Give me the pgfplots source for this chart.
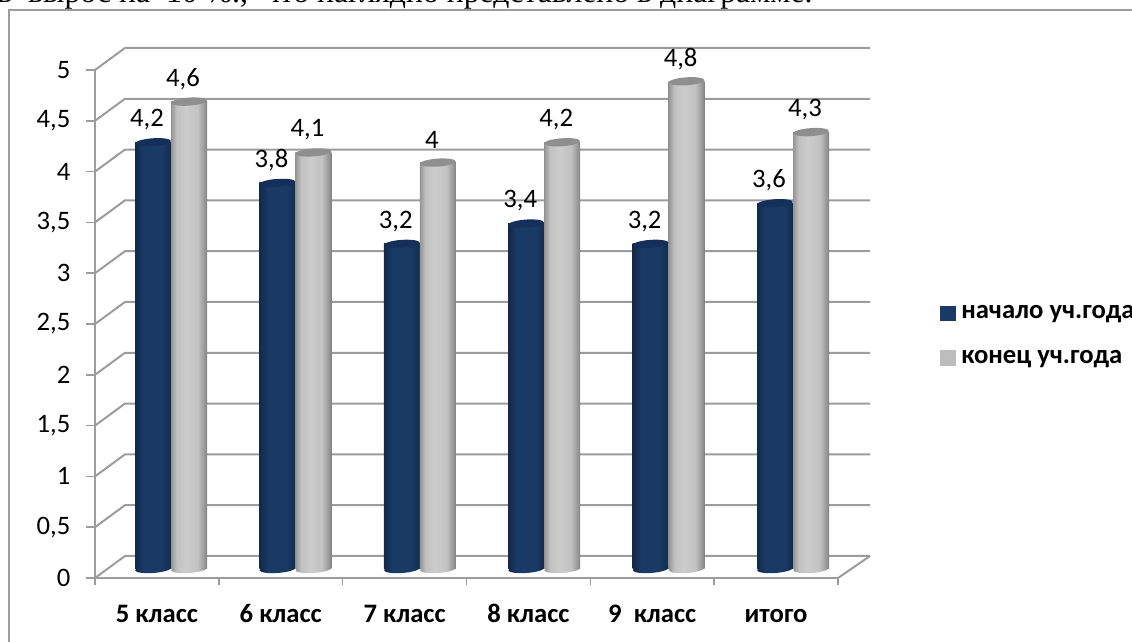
\documentclass[border=0pt]{standalone}
\usepackage{pgfplots}
\usepackage{pgfplotstable}
\pgfplotsset{compat=1.18}
\usepackage{fontspec}
\setmainfont{Carlito}
\newfontfamily\bodyfont{Liberation Serif}

\definecolor{gridc}{HTML}{9C9C9C}
\definecolor{navyc}{HTML}{1A3A66}
\definecolor{navycap}{HTML}{14305A}
\definecolor{grayc}{HTML}{BDBDBD}
\definecolor{graycap}{HTML}{8F8F8F}

% cylinder shadings, the visible part runs from 25bp to 75bp
\pgfdeclarehorizontalshading{cylnavy}{100bp}{color(0bp)=(navyc!70!black); color(25bp)=(navyc!70!black); color(37bp)=(navyc); color(62bp)=(navyc); color(75bp)=(navyc!75!black); color(100bp)=(navyc!75!black)}
\pgfdeclarehorizontalshading{cylgray}{100bp}{color(0bp)=(black!42); color(25bp)=(black!42); color(33bp)=(black!24); color(46bp)=(black!20); color(62bp)=(black!24); color(72bp)=(black!42); color(75bp)=(black!50); color(100bp)=(black!50)}

% tilted ellipses for the ends of the cylinders
\newcommand{\cylend}{\pgfpathellipse{\pgfpointorigin}{\pgfqpoint{13.37pt}{0.93pt}}{\pgfqpoint{-0.21pt}{2.99pt}}}
\pgfdeclareplotmark{navytop}{\pgfsetfillcolor{navycap}\cylend\pgfusepathqfill}
\pgfdeclareplotmark{graytop}{\pgfsetfillcolor{graycap}\cylend\pgfusepathqfill}
\pgfdeclareplotmark{navybase}{\cylend\pgfshadepath{cylnavy}{0}\pgfusepath{discard}}
\pgfdeclareplotmark{graybase}{\cylend\pgfshadepath{cylgray}{0}\pgfusepath{discard}}

\pgfplotstableread{
x nachalo konec zero
0 4.2 4.6 0
1 3.8 4.1 0
2 3.2 4.0 0
3 3.4 4.2 0
4 3.2 4.8 0
5 3.6 4.3 0
}\marks

% floor corner and the walls of the 3d box
\pgfplotstableread{
x y
-0.611 -0.0886
-0.370 0.128
5.619 0.128
nan nan
-0.611 0.4114
-0.370 0.628
5.619 0.628
nan nan
-0.611 0.9114
-0.370 1.128
5.619 1.128
nan nan
-0.611 1.4114
-0.370 1.628
5.619 1.628
nan nan
-0.611 1.9114
-0.370 2.128
5.619 2.128
nan nan
-0.611 2.4114
-0.370 2.628
5.619 2.628
nan nan
-0.611 2.9114
-0.370 3.128
5.619 3.128
nan nan
-0.611 3.4114
-0.370 3.628
5.619 3.628
nan nan
-0.611 3.9114
-0.370 4.128
5.619 4.128
nan nan
-0.611 4.4114
-0.370 4.628
5.619 4.628
nan nan
-0.611 4.9114
-0.370 5.128
5.619 5.128
nan nan
5.362 -0.0886
5.619 0.128
}\walls

\begin{document}
\begin{tikzpicture}
\path[use as bounding box,clip] (0pt,0pt) rectangle (849pt,481.5pt);
\begin{scope}[x=0.75pt,y=-0.75pt,shift={(0pt,481.5pt)}]
\node[anchor=base west,inner sep=0pt,font=\bodyfont\fontsize{23.8}{28}\selectfont] at (-3,3)
  {в\hspace{12pt}вырос на\ \ 10 \%.,\ \ что наглядно представлено в диаграмме.};
\draw[gridc,line width=1.3pt] (9,650) -- (9,10) -- (1140,10);
\end{scope}

\begin{axis}[
  at={(0pt,0pt)},anchor=south west,
  scale only axis,width=849pt,height=481.5pt,
  hide axis,clip=false,
  xmin=-1.3746,xmax=7.725,ymin=-0.7185,ymax=5.6004,
  unbounded coords=jump,
  /pgf/number format/.cd,fixed,precision=1,use comma,assume math mode=true,
  /pgfplots/.cd,
  bar width=27pt,
  navybar/.style={ybar,bar shift=0pt,draw=none,shade,shading=cylnavy,forget plot,nodes near coords},
  graybar/.style={ybar,bar shift=0pt,draw=none,shade,shading=cylgray,forget plot,nodes near coords},
  legend style={at={(rel axis cs:0.8305,0.5245)},anchor=north west,draw=none,fill=none,inner sep=0pt,
    font=\bfseries\fontsize{20}{22}\selectfont,row sep=22pt,
    nodes={inner xsep=4pt,inner ysep=0pt}},
  legend cell align=left,
  legend image code/.code={\fill[#1] (0pt,-5.6pt) rectangle (11.25pt,5.6pt);},
  every node near coord/.append style={font=\fontsize{20}{24}\selectfont,anchor=center,xshift=-4.5pt,yshift=17pt},
]
\addlegendimage{navyc}\addlegendentry{начало уч.года}
\addlegendimage{grayc}\addlegendentry{конец уч.года}

\addplot[gridc,line width=1.5pt,forget plot] table[x=x,y=y] {\walls};

\addplot[only marks,mark=navybase,forget plot] table[x expr=\thisrow{x}-0.1447,y=zero] {\marks};
\addplot[navybar] coordinates {(-0.1447,4.2)};
\addplot[navybar] coordinates {(0.8553,3.8)};
\addplot[navybar] coordinates {(1.8553,3.2)};
\addplot[navybar] coordinates {(2.8553,3.4)};
\addplot[navybar] coordinates {(3.8553,3.2)};
\addplot[navybar] coordinates {(4.8553,3.6)};
\addplot[only marks,mark=navytop,forget plot] table[x expr=\thisrow{x}-0.1447,y=nachalo] {\marks};

\addplot[only marks,mark=graybase,forget plot] table[x expr=\thisrow{x}+0.1447,y=zero] {\marks};
\addplot[graybar] coordinates {(0.1447,4.6)};
\addplot[graybar] coordinates {(1.1447,4.1)};
\addplot[graybar] coordinates {(2.1447,4.0)};
\addplot[graybar] coordinates {(3.1447,4.2)};
\addplot[graybar] coordinates {(4.1447,4.8)};
\addplot[graybar] coordinates {(5.1447,4.3)};
\addplot[only marks,mark=graytop,forget plot] table[x expr=\thisrow{x}+0.1447,y=konec] {\marks};
\end{axis}

% front axes with the tick labels
\begin{axis}[
  at={(71.25pt,48pt)},anchor=south west,
  scale only axis,width=557.25pt,height=381pt,
  xmin=-0.5,xmax=5.5,ymin=0,ymax=5,
  axis x line=bottom,axis y line=left,
  axis line style={-,draw=gridc,line width=1.5pt},
  tick align=outside,
  xtick={0,1,2,3,4,5},
  xticklabels={5 класс,6 класс,7 класс,8 класс,9\ \ класс,итого},
  minor xtick={-0.5,0.5,1.5,2.5,3.5,4.5,5.5},
  ytick={0,0.5,1,1.5,2,2.5,3,3.5,4,4.5,5},
  major x tick style={draw=none},
  minor x tick style={draw=gridc,line width=1.1pt},
  y tick style={draw=gridc,line width=1.1pt},
  major tick length=7pt,minor tick length=5.5pt,
  xticklabel style={font=\bfseries\fontsize{20}{22}\selectfont,text height=12pt,text depth=3pt,yshift=-11pt},
  yticklabel style={font=\fontsize{20}{24}\selectfont,xshift=-8pt,
    /pgf/number format/.cd,fixed,use comma,assume math mode=true},
]
\end{axis}
\end{tikzpicture}
\end{document}
